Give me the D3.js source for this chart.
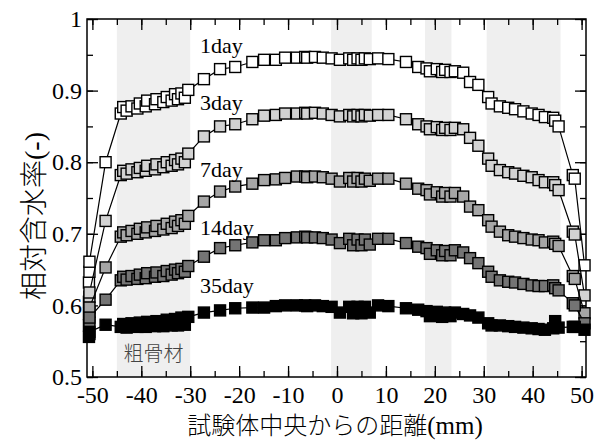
<!DOCTYPE html>
<html>
<head>
<meta charset="utf-8">
<script src="https://cdn.jsdelivr.net/npm/d3@7"></script>
<style>
  body { margin: 0; background: #fff; }
</style>
</head>
<body>
<div id="chart"></div>
<script>
var svgWidth = 595;
var svgHeight = 441;

var margin = { top: 19, right: 9, bottom: 64, left: 87 };
var width = svgWidth - margin.left - margin.right;
var height = svgHeight - margin.top - margin.bottom;

// measuring positions (mm from specimen centre), shared by all series
var pos = [-50.7, -50.6, -50.6, -47.3,
  -44.2, -43.7, -43.0, -42.0, -40.8, -40.3, -39.1, -38.8, -37.2, -36.9, -35.5, -34.8, -33.8, -33.1, -32.5, -31.8, -31.1, -30.4,
  -27.2, -23.9, -20.8, -17.3, -14.9, -12.5, -10.6, -8.2, -6.5, -6.1, -4.5, -2.9, -1.1, 0.6, 2.5, 3.3, 4.2, 5.0, 5.7, 6.7, 8.4, 10.5,
  14.1, 16.6, 18.3, 19.0, 20.4, 21.5, 22.1, 23.2, 24.1, 25.8, 27.2, 28.9, 30.9, 31.6, 33.3, 35.0, 36.4, 38.1, 39.8, 41.2, 42.5, 44.2, 44.6, 45.3,
  48.2, 48.6, 50.6];

var day1 = [0.632, 0.647, 0.661, 0.800,
  0.868, 0.877, 0.872, 0.878, 0.875, 0.882, 0.878, 0.886, 0.881, 0.888, 0.884, 0.891, 0.886, 0.895, 0.888, 0.896, 0.890, 0.901,
  0.916, 0.930, 0.933, 0.940, 0.943, 0.943, 0.946, 0.946, 0.947, 0.946, 0.947, 0.946, 0.945, 0.943, 0.945, 0.943, 0.945, 0.943, 0.945, 0.944, 0.945, 0.944,
  0.940, 0.933, 0.931, 0.927, 0.930, 0.926, 0.929, 0.926, 0.927, 0.925, 0.912, 0.908, 0.891, 0.882, 0.878, 0.876, 0.874, 0.871, 0.868, 0.866, 0.863, 0.862, 0.858, 0.850,
  0.782, 0.777, 0.656];

var day3 = [0.605, 0.612, 0.618, 0.718,
  0.782, 0.788, 0.784, 0.790, 0.786, 0.792, 0.788, 0.795, 0.790, 0.797, 0.793, 0.800, 0.795, 0.803, 0.797, 0.805, 0.800, 0.812,
  0.836, 0.850, 0.853, 0.860, 0.865, 0.866, 0.868, 0.868, 0.869, 0.868, 0.869, 0.868, 0.866, 0.864, 0.866, 0.864, 0.866, 0.864, 0.866, 0.865, 0.866, 0.866,
  0.860, 0.853, 0.850, 0.846, 0.849, 0.845, 0.848, 0.845, 0.848, 0.846, 0.834, 0.823, 0.805, 0.795, 0.789, 0.786, 0.784, 0.781, 0.779, 0.775, 0.772, 0.772, 0.768, 0.761,
  0.703, 0.699, 0.614];

var day7 = [0.588, 0.591, 0.597, 0.653,
  0.696, 0.702, 0.698, 0.704, 0.700, 0.707, 0.702, 0.709, 0.704, 0.711, 0.706, 0.714, 0.708, 0.717, 0.711, 0.719, 0.714, 0.725,
  0.745, 0.759, 0.766, 0.770, 0.775, 0.776, 0.778, 0.780, 0.780, 0.779, 0.780, 0.779, 0.777, 0.773, 0.778, 0.773, 0.778, 0.773, 0.777, 0.774, 0.777, 0.777,
  0.770, 0.763, 0.761, 0.755, 0.758, 0.752, 0.757, 0.752, 0.757, 0.752, 0.738, 0.733, 0.719, 0.710, 0.703, 0.698, 0.696, 0.694, 0.692, 0.691, 0.688, 0.689, 0.686, 0.683,
  0.641, 0.637, 0.589];

var day14 = [0.572, 0.576, 0.583, 0.608,
  0.635, 0.640, 0.636, 0.641, 0.637, 0.643, 0.638, 0.645, 0.640, 0.646, 0.641, 0.648, 0.643, 0.650, 0.645, 0.651, 0.647, 0.655,
  0.668, 0.680, 0.684, 0.688, 0.691, 0.691, 0.694, 0.695, 0.696, 0.695, 0.695, 0.694, 0.692, 0.687, 0.693, 0.684, 0.692, 0.684, 0.692, 0.685, 0.693, 0.693,
  0.687, 0.682, 0.680, 0.672, 0.677, 0.670, 0.676, 0.670, 0.677, 0.674, 0.666, 0.659, 0.647, 0.640, 0.635, 0.633, 0.632, 0.630, 0.628, 0.627, 0.627, 0.628, 0.624, 0.621,
  0.603, 0.600, 0.575];

var day35 = [0.556, 0.560, 0.563, 0.573,
  0.570, 0.574, 0.569, 0.575, 0.570, 0.576, 0.570, 0.577, 0.571, 0.578, 0.571, 0.580, 0.572, 0.581, 0.572, 0.583, 0.573, 0.584,
  0.590, 0.593, 0.596, 0.597, 0.597, 0.599, 0.600, 0.600, 0.600, 0.599, 0.600, 0.599, 0.598, 0.590, 0.598, 0.589, 0.598, 0.589, 0.598, 0.590, 0.600, 0.599,
  0.596, 0.594, 0.592, 0.585, 0.591, 0.584, 0.590, 0.585, 0.590, 0.588, 0.586, 0.583, 0.575, 0.572, 0.572, 0.571, 0.570, 0.569, 0.568, 0.567, 0.566, 0.568, 0.578, 0.569,
  0.570, 0.570, 0.566];

var seriesNames = ["1day", "3day", "7day", "14day", "35day"];
var seriesValues = [day1, day3, day7, day14, day35];
var seriesFills = ["#ffffff", "#d2d2d2", "#a6a6a6", "#747474", "#000000"];
// label anchor (x in mm, y as ratio)
var labelPos = [[-28, 0.953], [-28, 0.873], [-28, 0.779], [-28, 0.698], [-28, 0.618]];

// coarse aggregate bands (mm)
var bands = [[-45, -30], [-1.2, 7.1], [18, 23.4], [30.6, 45.7]];

var xMajor = d3.range(-50, 51, 10);
var xMinor = d3.range(-50, 51, 5);
var yMajor = [0.5, 0.6, 0.7, 0.8, 0.9, 1.0];
var yMinor = d3.range(0.5, 1.001, 0.05);

var svg = d3.select("#chart").append("svg")
  .attr("width", svgWidth)
  .attr("height", svgHeight);

var chartGroup = svg.append("g")
  .attr("transform", `translate(${margin.left}, ${margin.top})`);

var xScale = d3.scaleLinear().domain([-51.1, 50.9]).range([0, width]);
var yScale = d3.scaleLinear().domain([0.5, 1.0]).range([height, 0]);

// gray bands
chartGroup.selectAll("rect.band")
  .data(bands)
  .enter()
  .append("rect")
  .attr("class", "band")
  .attr("x", d => xScale(d[0]))
  .attr("width", d => xScale(d[1]) - xScale(d[0]))
  .attr("y", 0)
  .attr("height", height)
  .attr("fill", "#efefef");

chartGroup.append("text")
  .attr("x", xScale(-37.5))
  .attr("y", yScale(0.523))
  .attr("text-anchor", "middle")
  .style("font-family", "'Noto Sans CJK JP', sans-serif")
  .style("font-size", "20px")
  .style("font-weight", "300")
  .attr("fill", "#444")
  .text("粗骨材");

// axes: ticks inward on all four sides
function addAxis(axis, transform) {
  var g = chartGroup.append("g").attr("transform", transform).call(axis);
  g.attr("font-family", "Liberation Serif")
    .attr("font-size", 24);
  g.select(".domain").remove();
  g.selectAll(".tick line").attr("stroke", "#000").attr("stroke-width", 1.3);
  g.selectAll(".tick text").attr("fill", "#000");
  return g;
}

var fmtX = d => String(d).replace("\u2212", "-");
var fmtY = d => d === 1 ? "1" : d.toFixed(1);

addAxis(d3.axisBottom(xScale).tickValues(xMajor).tickSize(-11).tickPadding(9).tickFormat(fmtX), `translate(0, ${height})`);
addAxis(d3.axisBottom(xScale).tickValues(xMinor).tickSize(-6).tickFormat(""), `translate(0, ${height})`);
addAxis(d3.axisTop(xScale).tickValues(xMajor).tickSize(-11).tickFormat(""), "translate(0, 0)");
addAxis(d3.axisTop(xScale).tickValues(xMinor).tickSize(-6).tickFormat(""), "translate(0, 0)");

addAxis(d3.axisLeft(yScale).tickValues(yMajor).tickSize(-11).tickPadding(5).tickFormat(fmtY), "translate(0, 0)");
addAxis(d3.axisLeft(yScale).tickValues(yMinor).tickSize(-6).tickFormat(""), "translate(0, 0)");
addAxis(d3.axisRight(yScale).tickValues(yMajor).tickSize(-11).tickFormat(""), `translate(${width}, 0)`);
addAxis(d3.axisRight(yScale).tickValues(yMinor).tickSize(-6).tickFormat(""), `translate(${width}, 0)`);

chartGroup.append("rect")
  .attr("width", width)
  .attr("height", height)
  .attr("fill", "none")
  .attr("stroke", "#000")
  .attr("stroke-width", 1.5);

// lines and markers
var line = d3.line()
  .x((d, i) => xScale(pos[i]))
  .y(d => yScale(d));

seriesValues.forEach(function(vals, s) {
  var g = chartGroup.append("g");
  g.append("path")
    .attr("d", line(vals))
    .attr("fill", "none")
    .attr("stroke", "#000")
    .attr("stroke-width", 1.2);

  g.selectAll("rect")
    .data(vals)
    .enter()
    .append("rect")
    .attr("x", (d, i) => xScale(pos[i]) - 5.5)
    .attr("y", d => yScale(d) - 5.5)
    .attr("width", 11)
    .attr("height", 11)
    .attr("fill", seriesFills[s])
    .attr("stroke", "#000")
    .attr("stroke-width", 1.4);
});

chartGroup.selectAll("text.lbl")
  .data(seriesNames)
  .enter()
  .append("text")
  .attr("class", "lbl")
  .attr("x", (d, i) => xScale(labelPos[i][0]))
  .attr("y", (d, i) => yScale(labelPos[i][1]))
  .style("font-family", "'Liberation Serif', serif")
  .style("font-size", "22px")
  .text(d => d);

// axis titles (CJK in gothic, brackets in serif)
var xTitle = svg.append("text")
  .attr("x", 335)
  .attr("y", 434)
  .attr("text-anchor", "middle")
  .style("font-family", "'Noto Sans CJK JP', sans-serif")
  .style("font-size", "24px")
  .style("font-weight", "300");
xTitle.append("tspan").text("試験体中央からの距離");
xTitle.append("tspan").style("font-family", "'Liberation Serif', serif").style("font-size", "25px").text("(mm)");

var yTitle = svg.append("text")
  .attr("transform", "translate(44, 216) rotate(-90)")
  .attr("text-anchor", "middle")
  .style("font-family", "'Noto Sans CJK JP', sans-serif")
  .style("font-size", "28px")
  .style("font-weight", "300");
yTitle.append("tspan").text("相対含水率");
yTitle.append("tspan").style("font-family", "'Liberation Serif', serif").text("(-)");
</script>
</body>
</html>
